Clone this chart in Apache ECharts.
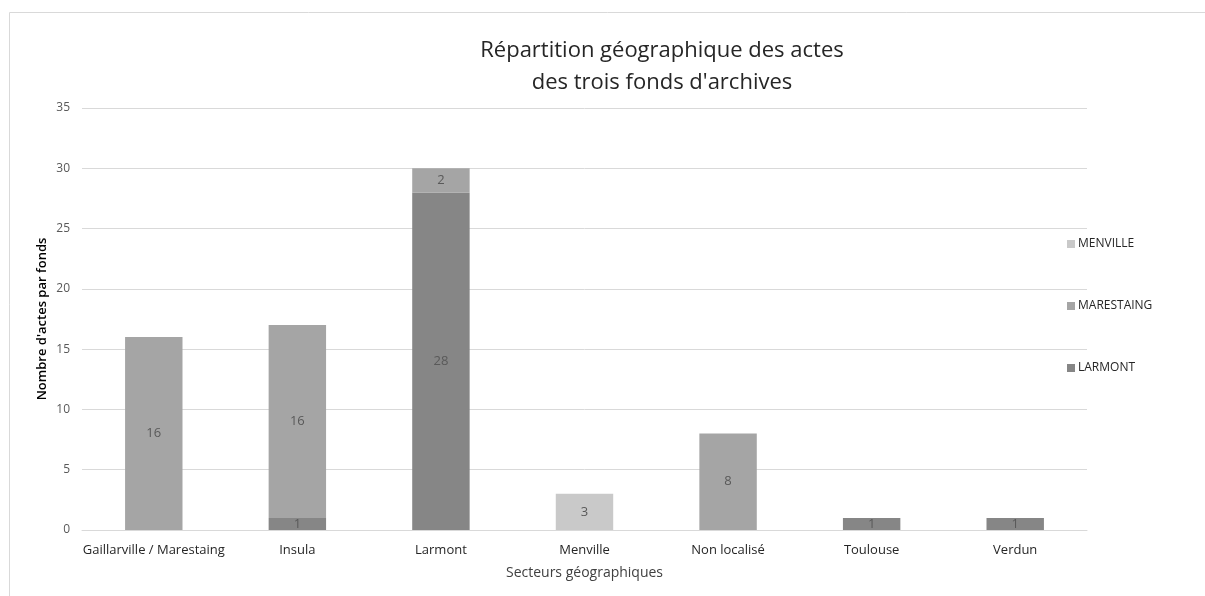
<!DOCTYPE html>
<html><head><meta charset="utf-8">
<script src="https://cdn.jsdelivr.net/npm/echarts@6/dist/echarts.min.js"></script>
<style>html,body{margin:0;padding:0;background:#fff}#c{width:1205px;height:596px}</style>
</head><body><div id="c"></div>
<script>
const categories = ["Gaillarville / Marestaing","Insula","Larmont","Menville","Non localisé","Toulouse","Verdun"];
const larmont = [0,1,28,0,0,1,1];
const marestaing = [16,16,2,0,8,0,0];
const menville = [0,0,0,3,0,0,0];
const yTicks = {min:0, max:35, interval:5};

const FONT = "'Open Sans', sans-serif";
const chart = echarts.init(document.getElementById('c'));
function lbl(){return {show:true, position:'inside', color:'#595959', fontSize:13, fontFamily:FONT,
  formatter:p=>p.value>0?p.value:''};}
function mk(name, data, color){
  return {name, type:'bar', stack:'s', data, barWidth:'40%',
    itemStyle:{color}, label:lbl(), emphasis:{disabled:true}};
}
chart.setOption({
  animation:false,
  textStyle:{fontFamily:FONT},
  title:{text:"Répartition géographique des actes\ndes trois fonds d'archives", left:657, top:30, textAlign:'center',
    textStyle:{fontSize:22, fontWeight:'normal', color:'#262626', lineHeight:32, fontFamily:FONT}},
  graphic:[{type:'rect', shape:{x:9.5,y:12.5,width:1300,height:700}, style:{fill:null, stroke:'#d9d9d9', lineWidth:1}, silent:true}],
  legend:{orient:'vertical', left:1062, top:233, itemGap:50, itemWidth:8, itemHeight:8, icon:'rect',
    data:['MENVILLE','MARESTAING','LARMONT'],
    textStyle:{fontSize:12, color:'#262626', fontFamily:FONT, padding:[0,0,0,-2]}},
  grid:{left:82, right:118, top:108, bottom:66, containLabel:false},
  xAxis:{type:'category', data:categories,
    name:'Secteurs géographiques', nameLocation:'middle', nameGap:36,
    nameTextStyle:{fontSize:14, color:'#404040', fontFamily:FONT},
    axisLine:{lineStyle:{color:'#d9d9d9'}}, axisTick:{show:false},
    axisLabel:{fontSize:13, color:'#262626', margin:14, interval:0, fontFamily:FONT}},
  yAxis:{type:'value', min:yTicks.min, max:yTicks.max, interval:yTicks.interval,
    name:"Nombre d'actes par fonds", nameLocation:'middle', nameGap:33, nameRotate:90, nameMoveOverlap:false,
    nameTextStyle:{fontSize:13, color:'#000', fontWeight:600, fontFamily:FONT},
    axisLine:{show:false}, axisTick:{show:false},
    splitLine:{lineStyle:{color:'#d9d9d9'}},
    axisLabel:{fontSize:12, color:'#595959', margin:12, fontFamily:FONT}},
  series:[
    mk('LARMONT', larmont, '#868686'),
    mk('MARESTAING', marestaing, '#a5a5a5'),
    mk('MENVILLE', menville, '#c9c9c9')
  ]
});
</script></body></html>
